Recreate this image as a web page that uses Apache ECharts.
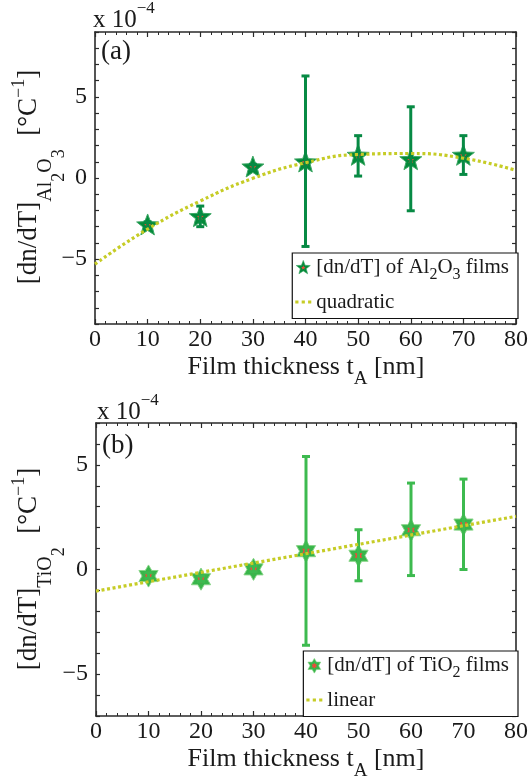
<!DOCTYPE html>
<html><head><meta charset="utf-8">
<script src="https://cdn.jsdelivr.net/npm/echarts@6/dist/echarts.min.js"></script>
<style>html,body{margin:0;padding:0;background:#fff}#c{width:531px;height:784px}</style>
</head><body><div id="c"></div>
<script>
// ---------- data (values in units of 1e-4 per °C) ----------
const thickness = [10, 20, 30, 40, 50, 60, 70];
const al2o3Value = [-2.90, -2.39, 0.67, 0.98, 1.39, 1.12, 1.39];
const al2o3Low   = [-3.10, -3.00, 0.50, -4.22, 0.12, -2.02, 0.22];
const al2o3High  = [-2.70, -1.73, 0.85, 6.29, 2.61, 4.39, 2.61];
const quadX = [0, 10, 20, 30, 40, 50, 60, 70, 80];
const quadY = [-5.31, -3.15, -1.42, -0.02, 0.94, 1.45, 1.51, 1.22, 0.47];
const tio2Value = [-0.29, -0.44, 0.03, 0.90, 0.68, 1.90, 2.17];
const tio2Low   = [-0.42, -0.57, -0.10, -3.62, -0.54, -0.29, 0.00];
const tio2High  = [-0.16, -0.31, 0.16, 5.40, 1.90, 4.13, 4.32];
const linX = [0, 80];
const linY = [-1.03, 2.54];
const xTickLabels = [0, 10, 20, 30, 40, 50, 60, 70, 80];
const yTickLabelsA = [-5, 0, 5];
const yTickLabelsB = [-5, 0, 5];
const nameA = '[dn/dT] of Al2O3 films';
const nameFitA = 'quadratic';
const nameB = '[dn/dT] of TiO2 films';
const nameFitB = 'linear';

// ---------- styling ----------
const SERIF = "'Liberation Serif','Times New Roman',serif";
const TXT = '#1a1a1a';
const AXC = '#2a2a2a';
const fitColor = '#c6cc26';

function starPts(n, R, r, cx, cy) {
  const p = [];
  for (let i = 0; i < 2 * n; i++) {
    const a = -Math.PI / 2 + i * Math.PI / n;
    const rad = i % 2 ? r : R;
    p.push((cx + rad * Math.cos(a)).toFixed(2) + ',' + (cy + rad * Math.sin(a)).toFixed(2));
  }
  return p.join(' ');
}
function svgSym(n, ratio, fill, stroke, red, redScale) {
  const svg = "<svg xmlns='http://www.w3.org/2000/svg' width='40' height='40' viewBox='0 0 40 40'>" +
    "<polygon points='" + starPts(n, 18.5, 18.5 * ratio, 20, 20.8) + "' fill='" + fill + "' stroke='" + stroke + "' stroke-width='1.6' stroke-linejoin='miter'/>" +
    "<polygon points='" + starPts(n, 18.5 * redScale, 18.5 * redScale * ratio, 20, 20.5) + "' fill='" + red + "'/></svg>";
  return 'image://data:image/svg+xml;charset=utf-8,' + encodeURIComponent(svg);
}
const symA = svgSym(5, 0.42, '#038a3a', '#3fa866', '#ef4b3b', 0.32);
const symB = svgSym(6, 0.58, '#38b54a', '#86d486', '#ef4a3a', 0.40);
const dotsIcon = 'path://M0,0h3v3h-3z M6,0h3v3h-3z M12,0h3v3h-3z';

function fmtY(arr) { return v => arr.indexOf(v) >= 0 ? (v < 0 ? '\u2212' + Math.abs(v) : String(v)) : ''; }

function xAx(grid, pos, showLabel) {
  return {
    type: 'value', gridIndex: grid, position: pos, min: 0, max: 80, interval: 10,
    axisLine: { show: true, onZero: false, lineStyle: { color: AXC, width: 1.6 } },
    axisTick: { show: true, inside: true, length: 5, lineStyle: { color: AXC, width: 1.2 } },
    minorTick: { show: true, splitNumber: 5, length: 3, lineStyle: { color: AXC, width: 1 } },
    splitLine: { show: false },
    axisLabel: { show: showLabel, fontFamily: SERIF, fontSize: 24, color: TXT, margin: 4,
      formatter: v => xTickLabels.indexOf(v) >= 0 ? String(v) : '' }
  };
}
function yAx(grid, pos, showLabel, mn, mx, labels) {
  return {
    type: 'value', gridIndex: grid, position: pos, min: mn, max: mx, interval: 1,
    axisLine: { show: true, onZero: false, lineStyle: { color: AXC, width: 1.6 } },
    axisTick: { show: true, inside: true, length: 4, lineStyle: { color: AXC, width: 1.2 } },
    splitLine: { show: false },
    axisLabel: { show: showLabel, fontFamily: SERIF, fontSize: 24, color: TXT, margin: 8, formatter: fmtY(labels) }
  };
}
function errBar(color, w, cap) {
  return function (params, api) {
    const x = api.value(0);
    const lo = api.coord([x, api.value(1)]);
    const hi = api.coord([x, api.value(2)]);
    const st = { stroke: color, lineWidth: w };
    return { type: 'group', children: [
      { type: 'line', shape: { x1: lo[0], y1: lo[1], x2: hi[0], y2: hi[1] }, style: st },
      { type: 'line', shape: { x1: hi[0] - cap, y1: hi[1], x2: hi[0] + cap, y2: hi[1] }, style: st },
      { type: 'line', shape: { x1: lo[0] - cap, y1: lo[1], x2: lo[0] + cap, y2: lo[1] }, style: st }
    ] };
  };
}
const legendRich = {
  m: { fontFamily: SERIF, fontSize: 21, color: TXT },
  s: { fontFamily: SERIF, fontSize: 16, color: TXT, padding: [14, 0, 0, 0] }
};
const legendLabels = {};
legendLabels[nameA] = '{m|[dn/dT] of Al}{s|2}{m|O}{s|3}{m| films}';
legendLabels[nameFitA] = '{m|quadratic}';
legendLabels[nameB] = '{m|[dn/dT] of TiO}{s|2}{m| films}';
legendLabels[nameFitB] = '{m|linear}';

function legend(names, right, top) {
  return {
    data: [{ name: names[0] }, { name: names[1], icon: dotsIcon, itemStyle: { color: fitColor } }],
    orient: 'vertical', right: right, top: top, selectedMode: false,
    backgroundColor: '#fff', borderColor: '#111', borderWidth: 1.2, borderRadius: 0,
    padding: [4, 9, 6, 3], itemGap: 9, itemWidth: 16, itemHeight: 16,
    formatter: n => legendLabels[n],
    textStyle: { fontFamily: SERIF, fontSize: 21, color: TXT, rich: legendRich }
  };
}

const yRich = {
  m: { fontFamily: SERIF, fontSize: 27, fill: TXT },
  s: { fontFamily: SERIF, fontSize: 20, fill: TXT, padding: [33, 0, 0, 0] },
  ss: { fontFamily: SERIF, fontSize: 18, fill: TXT, padding: [60, 0, 0, 0] },
  p: { fontFamily: SERIF, fontSize: 18, fill: TXT, padding: [0, 0, 19, 0] }
};
const xRich = {
  m: { fontFamily: SERIF, fontSize: 26, fill: TXT },
  s: { fontFamily: SERIF, fontSize: 19, fill: TXT, padding: [25, 0, 0, 0] }
};
const expRich = {
  m: { fontFamily: SERIF, fontSize: 25, fill: TXT },
  p: { fontFamily: SERIF, fontSize: 17, fill: TXT, padding: [0, 0, 22, 0] }
};
function gText(x, y, text, rich, rot, align, size) {
  return { type: 'text', x: x, y: y, rotation: rot || 0, z: 10,
    style: { text: text, rich: rich, align: align || 'center', verticalAlign: 'middle', fontFamily: SERIF, fontSize: size || 24, fill: TXT } };
}

const option = {
  animation: false,
  backgroundColor: '#fff',
  grid: [
    { left: 95, right: 14, top: 32, height: 292 },
    { left: 96, right: 13, top: 423, height: 293 }
  ],
  xAxis: [xAx(0, 'bottom', true), xAx(0, 'top', false), xAx(1, 'bottom', true), xAx(1, 'top', false)],
  yAxis: [yAx(0, 'left', true, -9, 9, yTickLabelsA), yAx(0, 'right', false, -9, 9, yTickLabelsA),
          yAx(1, 'left', true, -7, 7, yTickLabelsB), yAx(1, 'right', false, -7, 7, yTickLabelsB)],
  legend: [legend([nameA, nameFitA], 13, 253), legend([nameB, nameFitB], 13, 651)],
  series: [
    { name: nameA, type: 'scatter', xAxisIndex: 0, yAxisIndex: 0, symbol: symA, symbolSize: 25, z: 2,
      itemStyle: { opacity: 1 }, data: thickness.map((x, i) => [x, al2o3Value[i]]) },
    { name: 'errA', type: 'custom', xAxisIndex: 0, yAxisIndex: 0, z: 3, silent: true,
      renderItem: errBar('#078a44', 3, 4), data: thickness.map((x, i) => [x, al2o3Low[i], al2o3High[i]]) },
    { name: nameFitA, type: 'line', xAxisIndex: 0, yAxisIndex: 0, symbol: 'none', smooth: true, z: 4,
      lineStyle: { color: fitColor, width: 3.2, type: [3, 2.6], cap: 'butt' }, itemStyle: { color: fitColor },
      data: quadX.map((x, i) => [x, quadY[i]]) },
    { name: nameB, type: 'scatter', xAxisIndex: 2, yAxisIndex: 2, symbol: symB, symbolSize: 24, z: 2,
      itemStyle: { opacity: 1 }, data: thickness.map((x, i) => [x, tio2Value[i]]) },
    { name: 'errB', type: 'custom', xAxisIndex: 2, yAxisIndex: 2, z: 3, silent: true,
      renderItem: errBar('#3dba4f', 3, 4), data: thickness.map((x, i) => [x, tio2Low[i], tio2High[i]]) },
    { name: nameFitB, type: 'line', xAxisIndex: 2, yAxisIndex: 2, symbol: 'none', z: 4,
      lineStyle: { color: fitColor, width: 3.2, type: [3, 2.6], cap: 'butt' }, itemStyle: { color: fitColor },
      data: linX.map((x, i) => [x, linY[i]]) }
  ],
  graphic: [
    gText(93, 20, '{m|x 10}{p|\u22124}', expRich, 0, 'left'),
    gText(97, 412, '{m|x 10}{p|\u22124}', expRich, 0, 'left'),
    gText(101, 52, '(a)', {}, 0, 'left', 27),
    gText(102, 446, '(b)', {}, 0, 'left', 27),
    gText(29, 177, '{m|[dn/dT]}{s|Al}{ss|2}{s|O}{ss|3}{m|  [\u00B0C}{p|\u22121}{m|]}', yRich, Math.PI / 2),
    gText(29, 569, '{m|[dn/dT]}{s|TiO}{ss|2}{m|  [\u00B0C}{p|\u22121}{m|]}', yRich, Math.PI / 2),
    gText(306, 367, '{m|Film thickness t}{s|A}{m| [nm]}', xRich, 0),
    gText(306, 759, '{m|Film thickness t}{s|A}{m| [nm]}', xRich, 0)
  ]
};
const chart = echarts.init(document.getElementById('c'), null, { renderer: 'canvas' });
chart.setOption(option);
</script></body></html>
